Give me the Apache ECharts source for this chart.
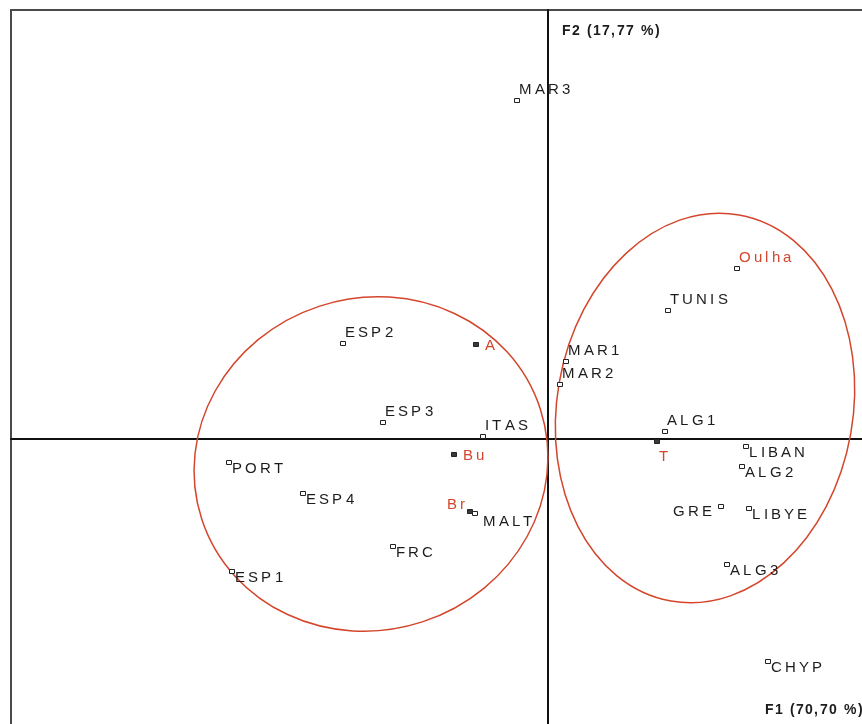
<!DOCTYPE html>
<html>
<head>
<meta charset="utf-8">
<script src="https://cdn.jsdelivr.net/npm/echarts@6/dist/echarts.min.js"></script>
<style>
  html, body { margin: 0; padding: 0; background: #ffffff; }
  #chart { width: 862px; height: 724px; }
</style>
</head>
<body>
<div id="chart"></div>
<script>
// Coordinates of the individuals on the first factorial plane (F1, F2)
const names = ['MAR3', 'Oulha', 'TUNIS', 'ESP2', 'A', 'MAR1', 'MAR2', 'ESP3', 'ITAS', 'Bu', 'ALG1', 'T',
               'LIBAN', 'ALG2', 'GRE', 'LIBYE', 'ALG3', 'PORT', 'ESP4', 'FRC', 'ESP1', 'Br', 'MALT', 'CHYP'];
const f1Values = [-0.31, 1.89, 1.20, -2.05, -0.72, 0.18, 0.12, -1.65, -0.65, -0.94, 1.17, 1.09,
                  1.98, 1.94, 1.73, 2.01, 1.79, -3.19, -2.45, -1.55, -3.16, -0.78, -0.73, 2.20];
const f2Values = [3.38, 1.70, 1.28, 0.95, 0.94, 0.77, 0.54, 0.16, 0.02, -0.16, 0.07, -0.03,
                  -0.08, -0.28, -0.68, -0.70, -1.26, -0.24, -0.55, -1.08, -1.33, -0.73, -0.75, -2.23];
// Supplementary (illustrative) points, drawn in red
const supplementary = ['Oulha', 'A', 'Bu', 'T', 'Br'];

// Group envelopes: centre on F1 / F2, half-extent on F1 / F2, tilt in degrees
const groupCentreF1 = [-1.77, 1.57];
const groupCentreF2 = [-0.25, 0.31];
const groupHalfF1 = [1.78, 1.48];
const groupHalfF2 = [1.66, 1.96];
const groupTilt = [18, -10];

// Axis titles
const axisTitleF1 = 'F1 (70,70 %)';
const axisTitleF2 = 'F2 (17,77 %)';

// ---------------------------------------------------------------------------
const INK = '#1c1c1c';
const RED = '#d4462c';
const LABEL_FONT = '15px "Liberation Sans", Arial, sans-serif';
const TITLE_FONT = 'bold 14px "Liberation Sans", Arial, sans-serif';

// Label placement around each marker (dx, dy in pixels, text alignment)
const placements = {
  ur: { dx: 2, dy: -11, align: 'left' },
  dr: { dx: 3, dy: 6, align: 'left' },
  drFar: { dx: 8, dy: 8, align: 'left' },
  r: { dx: 9, dy: 1, align: 'left' },
  b: { dx: 7, dy: 15, align: 'center' },
  l: { dx: -9, dy: 5, align: 'right' },
  ul: { dx: -5, dy: -7, align: 'right' }
};
const placeOf = {
  MAR3: 'ur', Oulha: 'ur', TUNIS: 'ur', ESP2: 'ur', MAR1: 'ur', MAR2: 'ur', ESP3: 'ur', ITAS: 'ur', ALG1: 'ur',
  LIBAN: 'dr', ALG2: 'dr', LIBYE: 'dr', ALG3: 'dr', PORT: 'dr', ESP4: 'dr', FRC: 'dr', ESP1: 'dr', CHYP: 'dr',
  MALT: 'drFar', A: 'r', Bu: 'r', T: 'b', GRE: 'l', Br: 'ul'
};
// Markers drawn solid
const solidMarkers = ['A', 'Bu', 'T', 'Br'];

// Letter-spaced text built from one text element per character
const measureCtx = document.createElement('canvas').getContext('2d');
function spacedText(str, x, y, align, font, color, gap) {
  measureCtx.font = font;
  const chars = Array.from(str);
  const widths = chars.map(c => measureCtx.measureText(c).width);
  const total = widths.reduce((a, b) => a + b, 0) + gap * (chars.length - 1);
  let cx = align === 'left' ? x : (align === 'right' ? x - total : x - total / 2);
  const out = [];
  chars.forEach((c, i) => {
    if (c !== ' ') {
      out.push({
        type: 'text',
        x: Math.round(cx),
        y: Math.round(y),
        silent: true,
        style: {
          text: c, font: font, fill: color,
          align: 'left', textAlign: 'left',
          verticalAlign: 'middle', textVerticalAlign: 'middle'
        }
      });
    }
    cx += widths[i] + gap;
  });
  return out;
}

const pointData = names.map((n, i) => [f1Values[i], f2Values[i], i]);
const groupData = groupCentreF1.map((c, i) => [c, groupCentreF2[i], groupHalfF1[i], groupHalfF2[i], groupTilt[i]]);

const chart = echarts.init(document.getElementById('chart'), null, { renderer: 'canvas' });

const option = {
  animation: false,
  backgroundColor: '#ffffff',
  grid: {
    left: 11, top: 10, width: 861, height: 724,
    outerBoundsMode: 'none', containLabel: false,
    show: true, borderColor: '#4a4a4a', borderWidth: 2, backgroundColor: 'transparent'
  },
  xAxis: {
    type: 'value', min: -5.37, max: 3.24,
    axisLine: { onZero: true, lineStyle: { color: '#111111', width: 2 } },
    axisTick: { show: false }, axisLabel: { show: false }, splitLine: { show: false }
  },
  yAxis: {
    type: 'value', min: -2.95, max: 4.29,
    axisLine: { onZero: true, lineStyle: { color: '#111111', width: 2 } },
    axisTick: { show: false }, axisLabel: { show: false }, splitLine: { show: false }
  },
  series: [
    {
      // group envelopes
      type: 'custom',
      coordinateSystem: 'cartesian2d',
      data: groupData,
      clip: true,
      z: 2,
      renderItem: function (params, api) {
        const c = api.coord([api.value(0), api.value(1)]);
        const s = api.size([api.value(2), api.value(3)]);
        return {
          type: 'ellipse',
          x: c[0], y: c[1],
          rotation: api.value(4) * Math.PI / 180,
          shape: { cx: 0, cy: 0, rx: s[0], ry: s[1] },
          style: { fill: 'none', stroke: RED, lineWidth: 1.5 }
        };
      }
    },
    {
      // individuals with their labels
      type: 'custom',
      coordinateSystem: 'cartesian2d',
      data: pointData,
      clip: false,
      z: 3,
      renderItem: function (params, api) {
        const p = api.coord([api.value(0), api.value(1)]);
        const name = names[api.value(2)];
        const isSup = supplementary.indexOf(name) >= 0;
        const solid = solidMarkers.indexOf(name) >= 0;
        const pl = placements[placeOf[name]];
        const children = [{
          type: 'rect',
          shape: { x: Math.round(p[0]) - 2.5, y: Math.round(p[1]) - 2.5, width: 5, height: 4 },
          style: { fill: solid ? '#3a3a3a' : '#ffffff', stroke: '#222222', lineWidth: 1 }
        }];
        const txt = spacedText(name, p[0] + pl.dx, p[1] + pl.dy, pl.align, LABEL_FONT, isSup ? RED : INK, 3.2);
        return { type: 'group', children: children.concat(txt) };
      }
    }
  ]
};
chart.setOption(option);

// Axis titles placed next to the ends of the factorial axes
const origin = chart.convertToPixel({ gridIndex: 0 }, [0, 0]);
chart.setOption({
  graphic: [
    { type: 'group', silent: true, children: spacedText(axisTitleF2, origin[0] + 14, 31, 'left', TITLE_FONT, INK, 1.5) },
    { type: 'group', silent: true, children: spacedText(axisTitleF1, 765, 710, 'left', TITLE_FONT, INK, 1.5) }
  ]
});
</script>
</body>
</html>
